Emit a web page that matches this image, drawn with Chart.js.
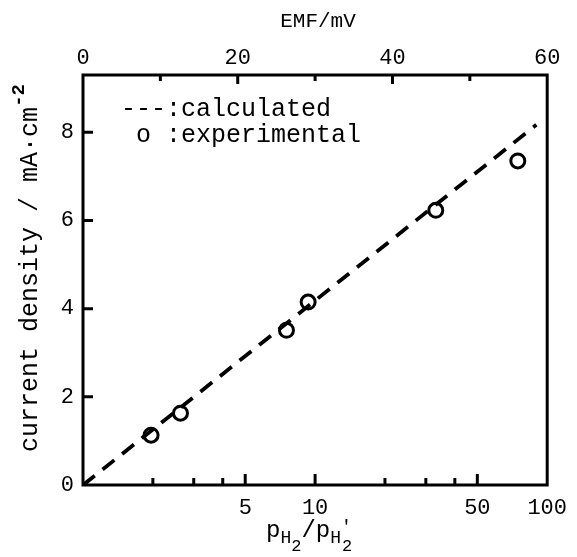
<!DOCTYPE html>
<html><head><meta charset="utf-8">
<script src="https://cdn.jsdelivr.net/npm/chart.js@4"></script>
<style>html,body{margin:0;padding:0;background:#fff}#wrap{width:577px;height:557px}</style>
</head><body><div id="wrap"><canvas id="c" width="577" height="557"></canvas></div>
<script>
// ---- data ----
const emfTicks = [0, 20, 40, 60];
const emfMinor = [10, 30, 50];
const ratioLabels = [5, 10, 50, 100];
const ratioMinor = [2, 3, 4, 20, 30, 40];
const yTicks = [0, 2, 4, 6, 8];
const expEMF = [8.8, 12.6, 26.3, 29.1, 45.6, 56.2];
const expCurrent = [1.13, 1.63, 3.51, 4.15, 6.23, 7.35];
const calcEMF = [0, 58.6];
const calcCurrent = [0, 8.17];

const FONT = "'Liberation Mono', 'Courier New', monospace";

const calcPts = calcEMF.map((x, i) => ({x, y: calcCurrent[i]}));
const expPts = expEMF.map((x, i) => ({x, y: expCurrent[i]}));

function fixTicks(arr) { return function(scale) { scale.ticks = arr.map(v => ({value: v})); }; }

const decor = {
  id: 'decor',
  afterDraw(chart) {
    const ctx = chart.ctx, a = chart.chartArea;
    const sx = chart.scales.x, sb = chart.scales.xb, sy = chart.scales.y;
    ctx.save();
    ctx.strokeStyle = '#000'; ctx.fillStyle = '#000';
    ctx.lineWidth = 3;
    ctx.strokeRect(a.left, a.top, a.right - a.left, a.bottom - a.top);
    ctx.beginPath();
    emfTicks.slice(1, -1).forEach(v => { const p = sx.getPixelForValue(v); ctx.moveTo(p, a.top); ctx.lineTo(p, a.top + 9); });
    emfMinor.forEach(v => { const p = sx.getPixelForValue(v); ctx.moveTo(p, a.top); ctx.lineTo(p, a.top + 6); });
    ratioLabels.slice(0, -1).forEach(v => { const p = sb.getPixelForValue(v); ctx.moveTo(p, a.bottom); ctx.lineTo(p, a.bottom - 11); });
    ratioMinor.forEach(v => { const p = sb.getPixelForValue(v); ctx.moveTo(p, a.bottom); ctx.lineTo(p, a.bottom - 7); });
    yTicks.slice(1).forEach(v => { const p = sy.getPixelForValue(v); ctx.moveTo(a.left, p); ctx.lineTo(a.left + 10, p); });
    ctx.stroke();

    ctx.font = '21px ' + FONT;
    ctx.textAlign = 'center'; ctx.textBaseline = 'middle';
    ctx.fillText('EMF/mV', 318, 21);

    ctx.font = '25px ' + FONT;
    ctx.textAlign = 'left'; ctx.textBaseline = 'middle';
    ctx.fillText('---:calculated', 121, 109);
    ctx.fillText(' o :experimental', 121, 135);

    ctx.save();
    ctx.translate(29, 268);
    ctx.rotate(-Math.PI / 2);
    const main = 'current density / mA\u00b7cm';
    ctx.font = '25px ' + FONT;
    const w1 = ctx.measureText(main).width;
    ctx.font = 'bold 19px ' + FONT;
    const w2 = ctx.measureText('-2').width;
    const x0 = -(w1 + w2) / 2;
    ctx.textAlign = 'left'; ctx.textBaseline = 'alphabetic';
    ctx.font = '25px ' + FONT;
    ctx.fillText(main, x0, 8);
    ctx.font = 'bold 19px ' + FONT;
    ctx.fillText('-2', x0 + w1, -5);
    ctx.restore();

    const B = 537;
    let x = 266;
    const seg = (t, size, dy) => { ctx.font = size + 'px ' + FONT; ctx.fillText(t, x, B + dy); x += ctx.measureText(t).width; };
    ctx.textAlign = 'left'; ctx.textBaseline = 'alphabetic';
    seg('p', 24, 0); seg('H', 18, 6); seg('2', 17, 14);
    seg('/p', 24, 0); seg('H', 18, 6);
    const xp = x; seg("'", 18, -5); x = xp + 1; seg('2', 17, 14);
    ctx.restore();
  }
};

new Chart(document.getElementById('c'), {
  type: 'scatter',
  data: {
    datasets: [
      { label: 'calculated', data: calcPts, showLine: true, borderColor: '#000', borderWidth: 3.8,
        borderDash: [15, 10], pointRadius: 0, fill: false, xAxisID: 'x', yAxisID: 'y' },
      { label: 'experimental', data: expPts, showLine: false, pointStyle: 'circle', pointRadius: 7,
        borderWidth: 3, borderColor: '#000', backgroundColor: 'rgba(255,255,255,1)', xAxisID: 'x', yAxisID: 'y' }
    ]
  },
  options: {
    responsive: false, animation: false, devicePixelRatio: 1,
    layout: { padding: { left: 0, right: 24, top: 0, bottom: 0 } },
    plugins: { legend: { display: false }, tooltip: { enabled: false } },
    scales: {
      x: { type: 'linear', position: 'top', min: 0, max: 60,
        afterBuildTicks: fixTicks(emfTicks),
        afterFit(s) { s.height = 75; },
        grid: { display: false, drawTicks: false }, border: { display: false },
        ticks: { color: '#000', font: { family: FONT, size: 22 }, padding: 4, maxRotation: 0, autoSkip: false } },
      xb: { type: 'logarithmic', position: 'bottom', min: 1, max: 100,
        afterBuildTicks: fixTicks(ratioLabels),
        afterFit(s) { s.height = 72; },
        grid: { display: false, drawTicks: false }, border: { display: false },
        ticks: { color: '#000', font: { family: FONT, size: 22 }, padding: 10, maxRotation: 0, autoSkip: false,
          callback: v => String(v) } },
      y: { type: 'linear', position: 'left', min: 0, max: 9.3,
        afterBuildTicks: fixTicks(yTicks),
        afterFit(s) { s.width = 83; },
        grid: { display: false, drawTicks: false }, border: { display: false },
        ticks: { color: '#000', font: { family: FONT, size: 22 }, padding: 9 } }
    }
  },
  plugins: [decor]
});
</script></body></html>
